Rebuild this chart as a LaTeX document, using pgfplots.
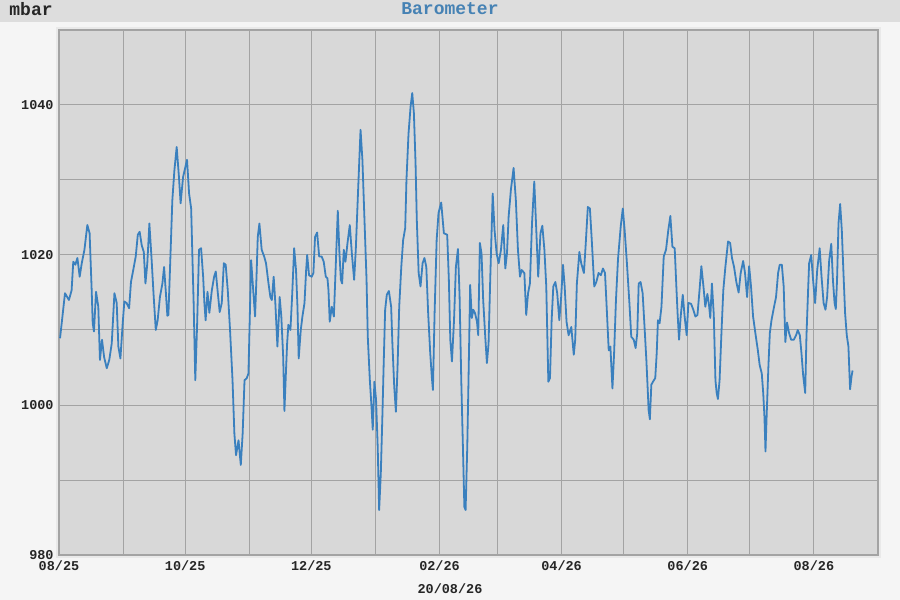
\documentclass[border=0pt]{standalone}
\usepackage{fontspec}
\setmonofont{Liberation Mono}
\usepackage{pgfplots}
\pgfplotsset{compat=1.18}
\usepackage{pgfplotstable}

\definecolor{pagebg}{RGB}{245,245,245}
\definecolor{headbg}{RGB}{221,221,221}
\definecolor{framebg}{RGB}{233,233,233}
\definecolor{plotbg}{RGB}{216,216,216}
\definecolor{gridc}{RGB}{163,163,163}
\definecolor{linec}{RGB}{58,128,190}
\definecolor{titlec}{RGB}{70,130,180}

\newcommand\tickfont{\fontsize{6.75}{7}\selectfont\ttfamily\bfseries}
\newcommand\headfont{\fontsize{9}{10}\selectfont\ttfamily\bfseries}

% day since 2025-08-01, pressure in mbar
\pgfplotstableread{
day mbar
0.5 1008.9
2.9 1014.9
4.8 1014.0
6.1 1015.3
6.9 1019.1
7.9 1018.7
8.9 1019.6
10.0 1017.1
11.0 1018.9
12.3 1020.7
13.7 1024.0
14.8 1022.9
15.8 1015.3
16.3 1010.9
16.9 1009.8
17.9 1015.1
19.0 1013.1
19.8 1006.0
20.8 1008.7
21.8 1006.4
23.1 1004.9
24.3 1006.0
25.5 1008.2
26.8 1014.9
27.9 1013.6
28.7 1007.8
29.7 1006.2
30.8 1010.9
31.6 1013.8
32.7 1013.6
33.9 1012.9
34.8 1016.4
35.9 1018.0
37.1 1019.8
38.1 1022.7
39.0 1023.1
40.0 1021.3
41.0 1020.4
41.8 1016.2
42.7 1018.9
43.7 1024.2
44.8 1019.3
45.8 1014.4
46.8 1010.0
47.7 1011.3
48.8 1014.4
50.0 1016.2
50.8 1018.4
51.6 1015.3
52.4 1011.9
52.9 1012.0
53.7 1018.4
54.8 1027.3
55.8 1031.3
56.9 1034.4
58.0 1030.4
58.8 1026.9
60.0 1030.4
61.9 1032.7
62.9 1028.2
63.9 1026.2
64.5 1019.8
65.1 1013.6
65.9 1003.3
66.8 1010.9
67.7 1020.7
68.7 1020.9
69.7 1017.1
70.3 1013.6
70.9 1011.3
71.8 1015.1
72.7 1012.3
73.9 1015.3
75.0 1017.1
75.8 1017.8
76.8 1014.9
77.7 1012.4
78.7 1013.6
79.7 1018.9
80.6 1018.7
81.6 1015.3
82.7 1010.0
83.9 1003.3
84.8 996.2
85.6 993.3
86.8 995.3
87.9 992.0
88.8 996.2
89.7 1003.3
90.8 1003.6
91.6 1004.2
92.1 1010.0
92.9 1019.3
93.9 1015.3
94.8 1011.8
95.5 1017.1
96.1 1022.4
96.9 1024.2
98.0 1020.7
99.2 1019.8
100.1 1018.9
101.3 1016.2
102.2 1014.4
102.9 1014.0
103.8 1017.1
104.6 1013.6
105.6 1007.8
106.3 1011.8
106.7 1014.4
107.5 1011.8
108.4 1006.4
109.0 999.2
109.7 1004.2
110.3 1008.2
110.9 1010.7
111.9 1010.0
112.7 1014.4
113.7 1020.9
114.6 1018.0
115.3 1013.1
115.9 1006.2
116.9 1010.0
117.7 1011.8
118.7 1013.6
119.5 1018.0
120.0 1020.0
120.9 1017.3
122.2 1017.1
123.0 1017.6
123.8 1022.4
124.8 1023.0
125.8 1019.8
127.0 1019.8
128.0 1019.1
129.0 1017.1
129.8 1016.9
130.3 1015.3
130.9 1011.1
131.9 1013.1
132.9 1011.8
134.8 1025.9
135.6 1020.2
136.3 1016.7
136.9 1016.2
137.7 1020.7
138.5 1019.1
139.5 1021.6
140.6 1024.0
141.6 1020.2
142.7 1016.7
143.5 1020.7
144.5 1027.8
145.8 1036.7
146.7 1032.7
147.7 1024.7
148.7 1016.7
149.3 1009.1
150.3 1003.3
151.2 999.3
151.7 996.7
152.5 1003.1
153.3 1000.7
154.1 994.4
154.8 986.0
155.6 990.9
156.4 998.9
157.0 1005.6
157.7 1012.7
158.5 1014.7
159.5 1015.2
160.6 1013.1
161.2 1008.2
162.1 1002.4
162.9 999.1
163.7 1005.1
164.5 1013.1
165.5 1018.4
166.4 1022.0
167.4 1023.6
168.0 1030.0
169.0 1036.2
170.0 1039.8
170.8 1041.6
171.6 1038.9
172.4 1032.2
173.0 1024.7
173.9 1017.6
174.8 1015.8
175.8 1018.9
176.7 1019.6
177.6 1018.4
178.5 1012.2
179.5 1006.9
180.3 1003.6
180.8 1002.0
181.6 1012.2
182.6 1022.0
183.5 1025.6
184.8 1027.0
186.1 1022.9
187.7 1022.7
188.5 1016.7
189.2 1008.7
190.0 1005.8
191.0 1011.3
191.9 1018.4
192.9 1020.8
193.7 1014.4
194.5 1003.3
195.3 994.4
196.0 986.4
196.6 986.0
197.4 994.4
198.0 1003.3
198.8 1016.0
199.6 1011.6
200.3 1012.7
201.2 1012.2
202.1 1011.1
202.7 1009.3
203.5 1021.6
204.3 1020.2
205.1 1014.0
206.1 1009.1
206.9 1005.6
207.7 1008.2
208.5 1016.7
209.7 1028.2
210.6 1023.3
211.6 1020.2
212.6 1018.9
213.7 1020.7
214.8 1024.0
215.8 1018.2
216.6 1020.2
217.4 1025.1
218.5 1028.7
219.8 1031.6
220.9 1027.3
221.9 1020.7
222.9 1017.1
223.7 1018.0
225.0 1017.6
225.9 1012.0
226.8 1014.9
227.7 1016.2
228.7 1024.2
229.8 1029.8
230.7 1023.8
231.7 1017.1
232.8 1022.9
233.7 1023.9
234.7 1020.7
235.6 1015.8
236.6 1003.1
237.4 1003.6
238.2 1011.3
239.0 1015.8
240.0 1016.4
240.9 1014.9
241.9 1011.3
242.8 1014.4
243.7 1018.7
244.5 1015.8
245.4 1011.1
246.4 1009.3
247.7 1010.4
248.9 1006.7
249.6 1008.7
250.4 1016.2
251.6 1020.4
252.5 1018.9
253.8 1017.6
254.6 1021.1
255.7 1026.4
256.7 1026.2
257.6 1022.0
258.8 1015.8
259.8 1016.4
260.9 1017.6
262.0 1017.3
263.0 1018.2
264.0 1017.6
264.8 1013.1
265.8 1007.3
266.6 1007.8
267.6 1002.2
268.4 1006.9
269.3 1014.0
270.3 1019.5
271.6 1023.8
272.6 1026.2
273.5 1023.3
274.6 1018.9
275.8 1013.6
276.7 1009.1
277.9 1008.7
278.8 1007.6
279.6 1009.6
280.3 1016.2
281.2 1016.4
282.2 1014.9
283.2 1010.0
284.0 1006.0
284.6 1002.4
285.1 999.3
285.7 998.1
286.4 1002.7
287.2 1003.1
288.3 1003.6
289.0 1006.9
289.6 1011.3
290.4 1010.9
291.3 1013.1
292.4 1019.8
293.5 1020.7
294.6 1023.3
295.6 1025.2
296.6 1021.1
297.7 1020.9
298.5 1015.8
299.1 1012.2
299.8 1008.7
300.6 1011.8
301.6 1014.7
302.5 1011.8
303.5 1009.3
304.3 1013.6
305.6 1013.5
306.7 1012.7
307.7 1011.8
308.7 1012.0
309.7 1015.3
310.6 1018.5
311.6 1015.8
312.5 1013.1
313.5 1014.8
314.3 1013.3
314.9 1011.6
315.7 1016.2
316.6 1012.0
317.4 1003.3
318.0 1001.6
318.6 1000.8
319.4 1003.3
320.3 1009.6
321.2 1015.3
322.2 1018.4
323.5 1021.8
324.5 1021.6
325.4 1019.6
326.4 1018.4
327.5 1016.4
328.6 1015.0
329.6 1017.6
330.8 1019.2
331.7 1017.6
332.7 1014.4
333.7 1018.5
334.6 1015.8
335.6 1011.8
336.7 1009.6
337.9 1007.3
338.8 1005.3
339.8 1004.2
340.5 1001.6
341.1 998.4
341.6 993.8
342.2 998.9
343.0 1005.1
343.7 1009.6
344.5 1011.3
345.6 1012.9
346.7 1014.4
347.7 1017.6
348.5 1018.7
349.5 1018.7
350.4 1015.8
351.2 1008.4
352.0 1011.0
353.0 1009.6
354.0 1008.7
355.3 1008.7
356.4 1009.3
357.2 1010.0
358.2 1009.3
359.0 1006.9
359.8 1004.0
360.8 1001.6
361.4 1009.1
362.2 1015.3
362.7 1018.9
363.7 1020.0
364.6 1016.7
365.6 1013.6
366.6 1018.0
367.8 1020.9
368.7 1017.1
369.7 1013.6
370.6 1012.7
371.4 1014.4
372.4 1019.3
373.4 1021.5
374.2 1016.7
375.0 1013.6
375.6 1012.8
376.2 1016.7
376.9 1024.2
377.7 1026.8
378.5 1023.3
379.3 1017.6
380.1 1012.2
380.9 1009.3
381.7 1007.8
382.2 1004.2
382.5 1002.1
383.2 1003.8
383.7 1004.6
}\baro

\begin{document}
\begin{tikzpicture}
    % page, header band and plot frame (1px = 0.5pt)
    \fill[pagebg] (0,0) rectangle (450pt,300pt);
    \fill[headbg] (0,289pt) rectangle (450pt,300pt);
    \fill[framebg] (28pt,21pt) rectangle (440.5pt,286.5pt);
    \node[anchor=west, inner sep=0pt, text=black!85] at (4.5pt,295.5pt) {\headfont mbar};
    \node[inner sep=0pt, text=titlec] at (225pt,295.5pt) {\headfont Barometer};
    \node[inner sep=0pt, text=black!85] at (225pt,5.5pt) {\tickfont 20/08/26};
    \begin{axis}[
            at={(29.5pt,22.5pt)},
            anchor=south west,
            scale only axis,
            width=409.5pt,
            height=262.5pt,
            xmin=0, xmax=396,
            ymin=980, ymax=1050,
            axis background/.style={fill=plotbg},
            axis line style={draw=gridc, line width=0.6pt},
            xtick={0,31,61,92,122,153,184,212,243,273,304,334,365,396},
            xticklabels={08/25,,10/25,,12/25,,02/26,,04/26,,06/26,,08/26,},
            ytick={980,990,...,1050},
            yticklabels={980,,1000,,1020,,1040,},
            major tick length=0pt,
            grid=major,
            major grid style={draw=gridc, line width=0.5pt},
            /pgf/number format/assume math mode=true,
            xticklabel style={font=\tickfont, text=black!85, anchor=center, inner sep=0pt, yshift=-5.5pt},
            yticklabel style={font=\tickfont, text=black!85, anchor=east, inner sep=0pt, xshift=-2.5pt},
        ]
        \addplot[linec, line width=0.9pt, line join=round, no markers] table[x=day, y=mbar] {\baro};
    \end{axis}
\end{tikzpicture}
\end{document}
